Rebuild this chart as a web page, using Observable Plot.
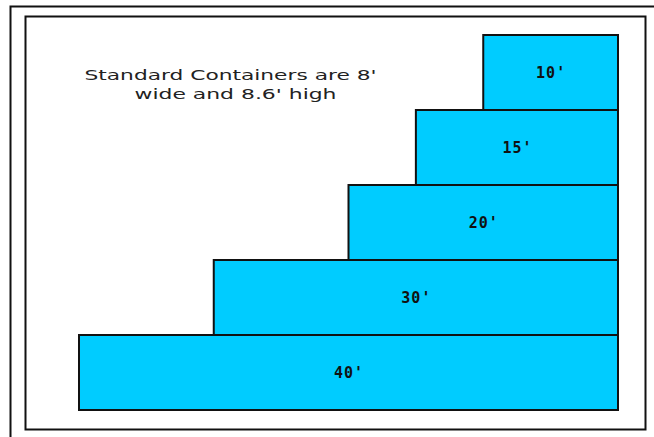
<!DOCTYPE html>
<html>
<head>
<meta charset="utf-8">
<script src="https://cdn.jsdelivr.net/npm/d3@7"></script>
<script src="https://cdn.jsdelivr.net/npm/@observablehq/plot@0.6"></script>
<style>
  html, body { margin: 0; padding: 0; background: #fff; overflow: hidden; }
</style>
</head>
<body>
<div id="chart"></div>
<script>
const containerLabels = ["10'", "15'", "20'", "30'", "40'"];
const containerLengths = [10, 15, 20, 30, 40];
const noteLines = ["Standard Containers are 8'", "wide and 8.6' high"];

const data = containerLabels.map((label, i) => ({label, length: containerLengths[i]}));

const noteStyle = {
  frameAnchor: "top-left", textAnchor: "start", lineAnchor: "bottom",
  fill: "#222", fontSize: 14, fontFamily: "DejaVu Sans"
};

const chart = Plot.plot({
  width: 654,
  height: 437,
  marginTop: 0, marginRight: 0, marginBottom: 0, marginLeft: 0,
  style: {background: "#fff", overflow: "visible"},
  x: {domain: [0, 40], range: [618, 79], axis: null},
  y: {type: "band", domain: containerLabels, range: [35, 410], padding: 0, axis: null},
  marks: [
    Plot.frame({stroke: "#111", strokeWidth: 2, insetLeft: 10, insetTop: 6, insetRight: -10, insetBottom: -10}),
    Plot.frame({stroke: "#111", strokeWidth: 2, insetLeft: 25, insetTop: 16, insetRight: 9, insetBottom: 8}),
    Plot.barX(data, {x1: 0, x2: "length", y: "label", fill: "#00ccff", stroke: "#111", strokeWidth: 2}),
    Plot.text(data, {
      x: d => d.length / 2, y: "label", text: "label",
      fill: "#111", fontSize: 15, fontWeight: "bold",
      fontFamily: "DejaVu Sans Mono", className: "barlabel"
    }),
    Plot.text([noteLines[0]], {...noteStyle, dx: 84, dy: 79, className: "note1"}),
    Plot.text([noteLines[1]], {...noteStyle, dx: 134, dy: 98, className: "note2"})
  ]
});
chart.querySelectorAll(".note1 text").forEach(t => {
  t.setAttribute("textLength", 292);
  t.setAttribute("lengthAdjust", "spacingAndGlyphs");
});
chart.querySelectorAll(".note2 text").forEach(t => {
  t.setAttribute("textLength", 202);
  t.setAttribute("lengthAdjust", "spacingAndGlyphs");
});
chart.querySelectorAll(".barlabel text").forEach(t => { t.style.letterSpacing = "1px"; });
document.getElementById("chart").append(chart);
</script>
</body>
</html>
